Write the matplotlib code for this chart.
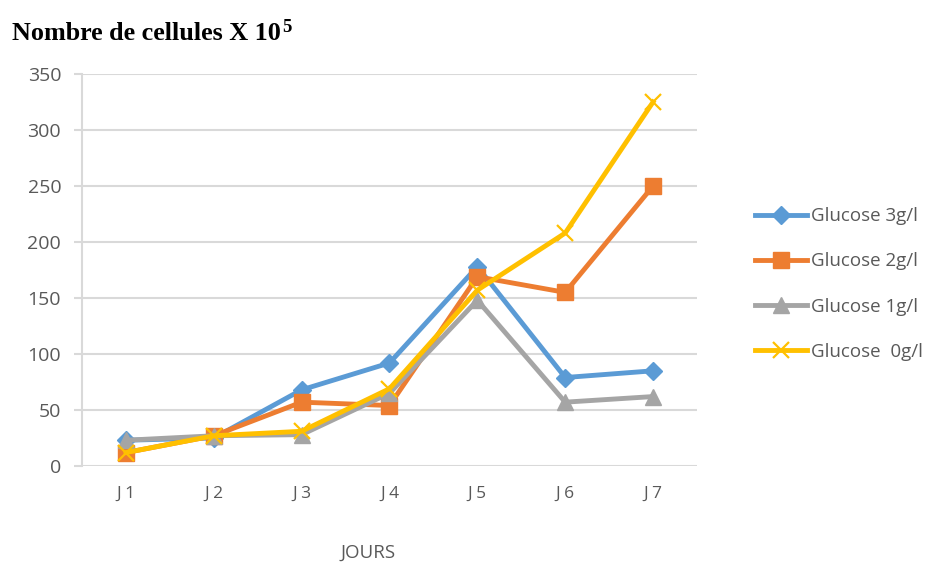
import matplotlib
matplotlib.use("Agg")
import matplotlib.pyplot as plt

# Data: cell counts (x 10^5) per day for each glucose concentration
days = ["J 1", "J 2", "J 3", "J 4", "J 5", "J 6", "J 7"]
glucose_3 = [23, 25, 68, 92, 178, 79, 85]
glucose_2 = [12, 27, 57, 54, 169, 155, 250]
glucose_1 = [23, 27, 28, 65, 148, 57, 62]
glucose_0 = [12, 27, 31, 69, 157, 208, 325]
series_labels = ["Glucose 3g/l", "Glucose 2g/l", "Glucose 1g/l", "Glucose  0g/l"]
y_ticks = [0, 50, 100, 150, 200, 250, 300, 350]

W, H = 939, 563
fig = plt.figure(figsize=(W / 100, H / 100), dpi=100)
ax = fig.add_axes([82 / W, (H - 466) / H, (697 - 82) / W, (466 - 74) / H])

sans = ["Open Sans", "DejaVu Sans"]
serif = ["Liberation Serif", "DejaVu Serif"]
text_col = "#595959"
grid_col = "#d9d9d9"

x = list(range(len(days)))
styles = [
    (glucose_3, "#5B9BD5", "D", 9, {}),
    (glucose_2, "#ED7D31", "s", 11, {}),
    (glucose_1, "#A5A5A5", "^", 11, {}),
    (glucose_0, "#FFC000", "x", 11, {"markeredgewidth": 1.6}),
]
for (vals, col, mk, ms, extra), lab in zip(styles, series_labels):
    ax.plot(x, vals, color=col, lw=3.5, marker=mk, markersize=ms,
            markerfacecolor=col, markeredgecolor=col, label=lab,
            solid_joinstyle="round", zorder=3, **extra)

ax.set_xlim(-0.5, len(days) - 0.5)
ax.set_ylim(0, 350)
ax.set_yticks(y_ticks)
ax.set_xticks(x)
ax.set_xticklabels(days)

ax.grid(axis="y", color=grid_col, lw=1.5, zorder=0)
ax.set_axisbelow(True)
for s in ["top", "right", "bottom"]:
    ax.spines[s].set_visible(False)
ax.spines["left"].set_color(grid_col)
ax.spines["left"].set_linewidth(1.5)
ax.tick_params(axis="y", length=6, width=1.5, color=grid_col, pad=9,
               labelsize=14, labelcolor=text_col)
ax.tick_params(axis="x", length=0, pad=14, labelsize=12.5, labelcolor=text_col)
for lbl in ax.get_xticklabels() + ax.get_yticklabels():
    lbl.set_family(sans)

fig.text(368 / W, 1 - 553 / H, "JOURS", ha="center", va="center",
         fontsize=13.5, color=text_col, family=sans)

# Title with a raised exponent
title = fig.text(12 / W, 1 - 39.5 / H, "Nombre de cellules X 10",
                 ha="left", va="baseline", fontsize=18.8, fontweight="bold",
                 family=serif, color="black")
renderer = fig.canvas.get_renderer()
bb = title.get_window_extent(renderer=renderer)
fig.text((bb.x1 + 1) / W, 1 - 31.5 / H, "5", ha="left", va="baseline",
         fontsize=13.5, fontweight="bold", family=serif, color="black")

leg = fig.legend(loc="center left", bbox_to_anchor=(738 / W, 1 - 284 / H),
                 frameon=False, handlelength=2.8, handletextpad=0.2,
                 labelspacing=1.45, prop={"family": sans, "size": 13.5})
for t in leg.get_texts():
    t.set_color(text_col)

fig.savefig("out.png", dpi=100)
